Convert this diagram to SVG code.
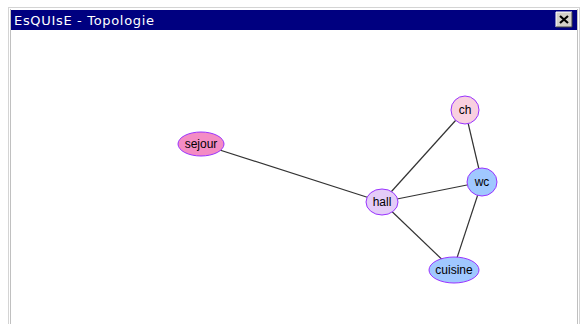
<svg xmlns="http://www.w3.org/2000/svg" width="580" height="324" viewBox="0 0 580 324">
<style>
.node ellipse{stroke:#9933ff;stroke-width:1}
.node text{font-family:"Liberation Sans",Arial,sans-serif;font-size:12px;fill:#000;text-anchor:middle;dominant-baseline:central}
#edges line{stroke:#333;stroke-width:1.2}
</style>
<rect x="0" y="0" width="580" height="324" fill="#fff"/>
<g id="window">
<rect x="8.5" y="7.5" width="571" height="320" fill="#fff" stroke="#d4d4d4"/>
<line x1="10.5" y1="9" x2="10.5" y2="324" stroke="#c0c0c0"/>
<line x1="577.5" y1="9" x2="577.5" y2="324" stroke="#c0c0c0"/>
<rect x="11" y="10" width="566" height="20" fill="#000080"/>
<text x="14" y="25" font-family="'DejaVu Sans','Liberation Sans',sans-serif" font-size="13" textLength="140" lengthAdjust="spacing" fill="#fff">EsQUIsE - Topologie</text>
<g id="close">
<rect x="556" y="12" width="16" height="15" fill="#d4d0c8"/>
<path d="M556 27 V12 H572" fill="none" stroke="#fff"/>
<path d="M556 27 H572 V12" fill="none" stroke="#404040"/>
<path d="M560 16 L568 23 M568 16 L560 23" stroke="#000" stroke-width="2.2"/>
</g>
</g>
<g id="edges">
<line x1="201" y1="144" x2="382" y2="202"/>
<line x1="382" y1="202" x2="465" y2="110"/>
<line x1="382" y1="202" x2="482" y2="182"/>
<line x1="382" y1="202" x2="453" y2="270"/>
<line x1="465" y1="110" x2="482" y2="182"/>
<line x1="482" y1="182" x2="453" y2="270"/>
</g>
<g id="sejour" class="node"><ellipse cx="201" cy="144" rx="23" ry="12" fill="#f48cc4"/><text x="201" y="144">sejour</text></g>
<g id="ch" class="node"><ellipse cx="465" cy="110" rx="14" ry="14" fill="#f8d0e0"/><text x="465" y="110">ch</text></g>
<g id="wc" class="node"><ellipse cx="482" cy="182" rx="15" ry="14" fill="#a0c8ff"/><text x="482" y="182">wc</text></g>
<g id="hall" class="node"><ellipse cx="382" cy="202" rx="16" ry="13" fill="#e4ccf8"/><text x="382" y="202">hall</text></g>
<g id="cuisine" class="node"><ellipse cx="454" cy="270" rx="25" ry="13" fill="#a0c8ff"/><text x="454" y="270">cuisine</text></g>
</svg>
